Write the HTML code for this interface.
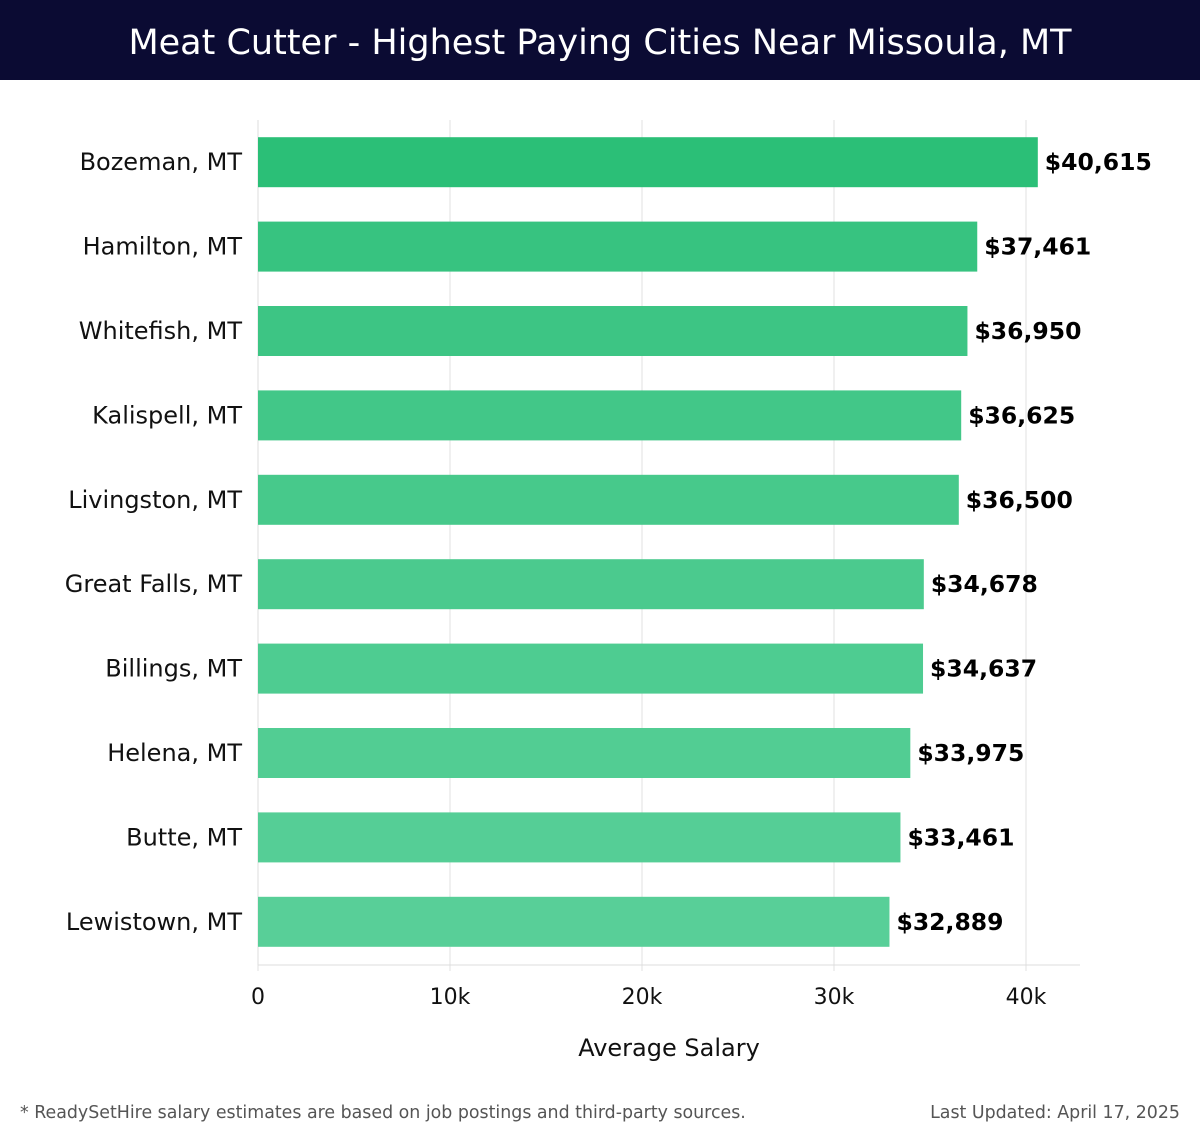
<!DOCTYPE html>
<html><head><meta charset="utf-8"><style>
body{margin:0;background:#fff;font-family:"DejaVu Sans","Liberation Sans",sans-serif;}
#wrap{position:relative;width:1200px;height:1140px;overflow:hidden;}
#title{position:absolute;left:0;top:0;width:1200px;height:80px;background:#0b0b33;color:#fff;font-size:35px;line-height:86px;text-align:center;font-family:"DejaVu Sans","Liberation Sans",sans-serif;font-weight:normal;}
.foot{position:absolute;top:1103px;font-size:17.4px;color:#555;}
</style></head><body>
<div id="wrap">
<div id="title">Meat Cutter - Highest Paying Cities Near Missoula, MT</div>
<svg id="chart" width="1200" height="1140" style="position:absolute;left:0;top:0"></svg>
<div class="foot" style="left:20px">* ReadySetHire salary estimates are based on job postings and third-party sources.</div>
<div class="foot" style="right:20px">Last Updated: April 17, 2025</div>
</div>
<script>
const cities=["Bozeman, MT","Hamilton, MT","Whitefish, MT","Kalispell, MT","Livingston, MT","Great Falls, MT","Billings, MT","Helena, MT","Butte, MT","Lewistown, MT"];
const salaries=[40615,37461,36950,36625,36500,34678,34637,33975,33461,32889];
const ticks=[0,10000,20000,30000,40000];
const tickLabels=["0","10k","20k","30k","40k"];
const svg=document.getElementById('chart');
const NS="http://www.w3.org/2000/svg";
const x0=258,pxPer=768/40000,top0=120,band=84.4,barH=50,bottom=965;
const X=v=>x0+v*pxPer;
const Y=i=>top0+i*band+(band-barH)/2;
function mk(t,a){const e=document.createElementNS(NS,t);for(const k in a)e.setAttribute(k,a[k]);svg.appendChild(e);return e;}
ticks.forEach((t,i)=>{
 const g=mk('line',{x1:X(t),x2:X(t),y1:top0,y2:bottom+6,stroke:'#e0e0e0','stroke-width':1});
 
 
 const l=mk('text',{x:X(t),y:1004,'text-anchor':'middle','font-size':22,fill:'#111'});
 l.textContent=tickLabels[i];
 
 
});
const ax=mk('line',{x1:x0,x2:1080,y1:bottom,y2:bottom,stroke:'#ddd','stroke-width':1});


const ay=mk('line',{x1:x0,x2:x0,y1:top0,y2:bottom,stroke:'#ddd','stroke-width':1});


const c0=[43,191,119],c1=[88,207,152];
cities.forEach((c,i)=>{
 const f=i/(cities.length-1);
 const col=`rgb(${c0.map((v,j)=>Math.round(v+(c1[j]-v)*Math.pow(f,0.6))).join(',')})`;
 const b=mk('rect',{x:x0,y:Y(i),width:X(salaries[i])-x0,height:barH,fill:col});
 
 
 const cl=mk('text',{x:242,y:Y(i)+barH/2+8,'text-anchor':'end','font-size':24,fill:'#111'});
 cl.textContent=c;
 
 
 const vl=mk('text',{x:X(salaries[i])+7,y:Y(i)+barH/2+8,'font-size':23.5,'font-weight':'bold',fill:'#000'});
 vl.textContent='$'+salaries[i].toLocaleString('en-US');
 
 
});
const at=mk('text',{x:669,y:1056,'text-anchor':'middle','font-size':24,fill:'#111'});
at.textContent='Average Salary';


</script>
</body></html>
